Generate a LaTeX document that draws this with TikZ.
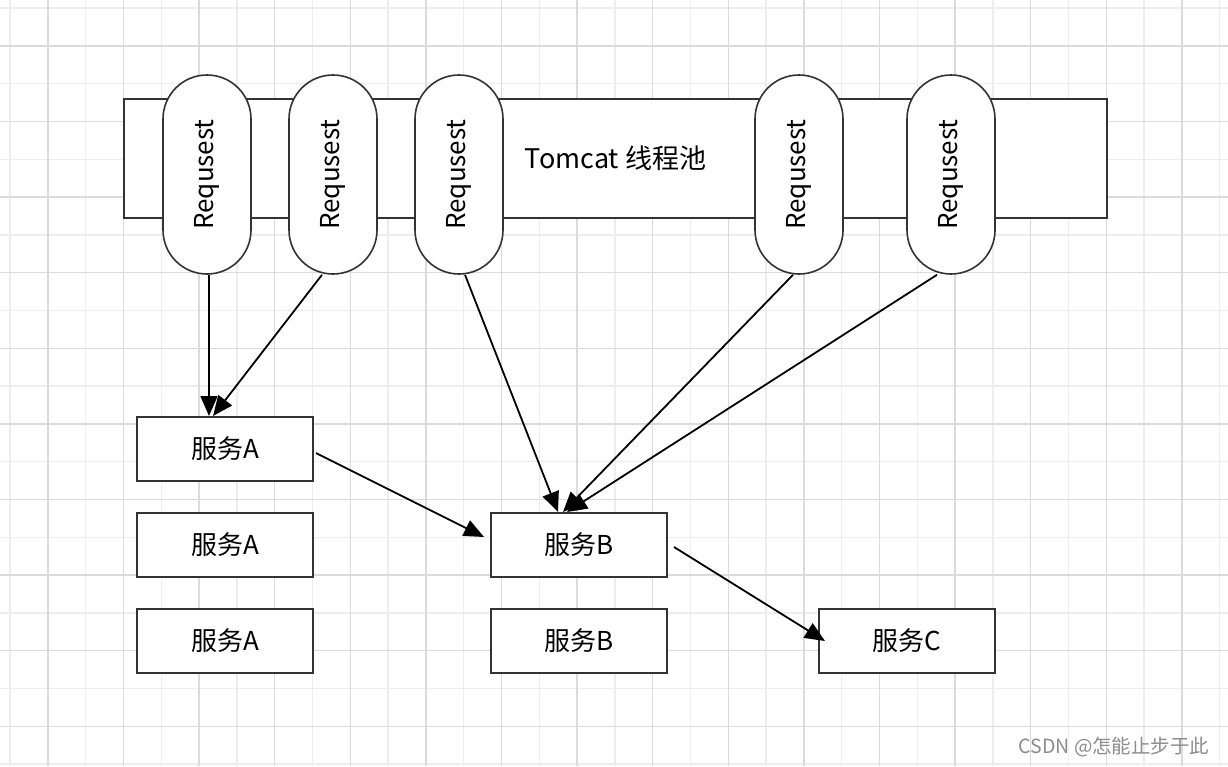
\documentclass[tikz,border=0pt]{standalone}
\usepackage{fontspec}
\setmainfont{Noto Sans CJK SC}
\usetikzlibrary{arrows.meta,positioning,calc}

\begin{document}
\begin{tikzpicture}[
    x=1pt, y=-1pt,
    font=\fontsize{26}{30}\selectfont,
    box/.style={rectangle, draw=black!80, line width=2pt, minimum width=176pt, minimum height=64pt, fill=white, inner sep=0pt},
    pool/.style={box, minimum width=983pt, minimum height=119pt, font=\fontsize{27}{31}\selectfont},
    req/.style={rectangle, rounded corners=44pt, draw=black!80, line width=1.6pt, fill=white, rotate=90, minimum width=199pt, minimum height=88pt, inner sep=0pt},
    arrow/.style={-{Triangle[length=20pt,width=17pt]}, line width=1.8pt},
    gridminor/.style={line width=1.4pt, draw=black!7},
    gridmajor/.style={line width=1.4pt, draw=black!14}
]
    \useasboundingbox[fill=white] (0,0) rectangle (1228,766);
    % background grid
    \foreach \k in {0,...,16} \draw[gridminor] (10+75.6*\k,0) -- (10+75.6*\k,766);
    \foreach \k in {0,...,10} \draw[gridminor] (0,8+75.6*\k) -- (1228,8+75.6*\k);
    \foreach \k in {0,...,15} \draw[gridmajor] (47.8+75.6*\k,0) -- (47.8+75.6*\k,766);
    \foreach \k in {0,...,9} \draw[gridmajor] (0,45.8+75.6*\k) -- (1228,45.8+75.6*\k);

    \node[pool] (pool) at (615.5,158.5) {Tomcat 线程池};
    \foreach \x/\n in {207/r1,333/r2,459/r3,799/r4,951/r5}
        \node[req] (\n) at (\x,174.5) {Requsest};

    \node[box] (a1) at (225,449) {服务A};
    \node[box] (a2) at (225,545) {服务A};
    \node[box] (a3) at (225,641) {服务A};
    \node[box] (b1) at (579,545) {服务B};
    \node[box] (b2) at (579,641) {服务B};
    \node[box] (c) at (907,641) {服务C};

    \draw[arrow] ([xshift=2pt]r1.west) -- ([xshift=-16pt]a1.north);
    \draw[arrow] ([xshift=-11pt]r2.west) -- ([xshift=-12pt]a1.north);
    \draw[arrow] ([xshift=6pt]r3.west) -- ([xshift=-21pt]b1.north);
    \draw[arrow] ([xshift=-6pt]r4.west) -- ([xshift=-16pt]b1.north);
    \draw[arrow] ([xshift=-14pt]r5.west) -- ([xshift=-12pt]b1.north);
    \draw[arrow] ([xshift=2pt,yshift=-4pt]a1.east) -- ([xshift=-6pt,yshift=8pt]b1.west);
    \draw[arrow] ([xshift=6pt,yshift=-2pt]b1.east) -- ([xshift=7pt]c.west);

    \node[text=black!45, font=\fontsize{19.5}{22}\selectfont, anchor=east] (mark) at (1213,747) {CSDN @怎能止步于此};
\end{tikzpicture}
\end{document}
